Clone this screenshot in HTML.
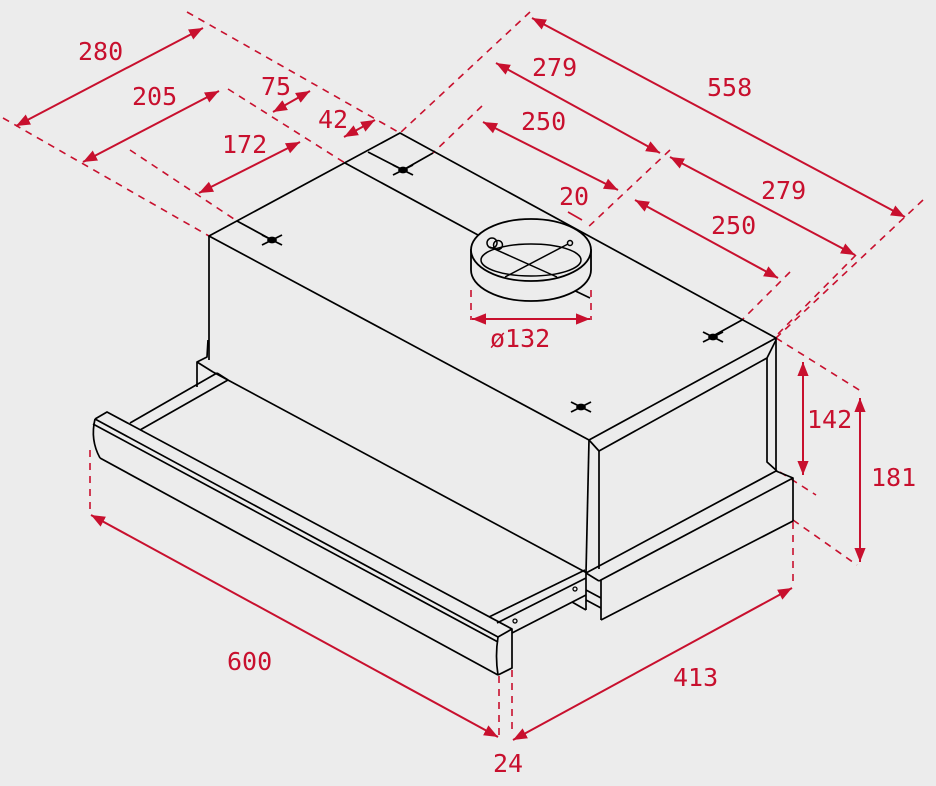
<!DOCTYPE html>
<html><head><meta charset="utf-8"><style>
html,body{margin:0;padding:0;background:#ececec;}
svg{display:block;}
text{font-family:"DejaVu Sans Mono","Liberation Mono",monospace;font-size:25px;fill:#c8102e;}
</style></head><body>
<svg width="936" height="786" viewBox="0 0 936 786" xmlns="http://www.w3.org/2000/svg">
<defs>
<marker id="a" viewBox="0 0 10 10" refX="10" refY="5" markerWidth="14" markerHeight="14" markerUnits="userSpaceOnUse" orient="auto-start-reverse">
<path d="M0,1 L10,5 L0,9 Z" fill="#c8102e"/></marker>
</defs>
<rect width="936" height="786" fill="#ececec"/>
<g stroke="#c8102e" stroke-width="1.6" stroke-dasharray="7,6" fill="none">
<line x1="187" y1="12" x2="400" y2="133"/>
<line x1="3" y1="118" x2="209" y2="236"/>
<line x1="228" y1="89" x2="345" y2="163"/>
<line x1="130" y1="150" x2="237" y2="221"/>
<line x1="530" y1="12" x2="400" y2="133"/>
<line x1="482" y1="106" x2="433" y2="153"/>
<line x1="670" y1="150" x2="585" y2="230"/>
<line x1="923" y1="200" x2="776" y2="338"/>
<line x1="856" y1="255" x2="776" y2="336"/>
<line x1="790" y1="272" x2="742" y2="320"/>
<line x1="471" y1="290" x2="471" y2="320"/>
<line x1="591" y1="290" x2="591" y2="320"/>
<line x1="776" y1="338" x2="864" y2="393"/>
<line x1="780" y1="472" x2="816" y2="495"/>
<line x1="793" y1="520" x2="857" y2="565"/>
<line x1="793" y1="522" x2="793" y2="585"/>
<line x1="90" y1="450" x2="90" y2="515"/>
<line x1="499" y1="676" x2="499" y2="735"/>
<line x1="512" y1="670" x2="512" y2="733"/>
</g>
<g stroke="#c8102e" stroke-width="1.6" fill="none">
<line x1="568" y1="212" x2="582" y2="220"/>
</g>
<g stroke="#c8102e" stroke-width="2" fill="none" marker-start="url(#a)" marker-end="url(#a)">
<line x1="16" y1="126" x2="203" y2="28"/>
<line x1="83" y1="162" x2="219" y2="91"/>
<line x1="199" y1="193" x2="300" y2="142"/>
<line x1="273" y1="112" x2="310" y2="91"/>
<line x1="344" y1="137" x2="375" y2="120"/>
<line x1="532" y1="18" x2="905" y2="217"/>
<line x1="496" y1="63" x2="660" y2="153"/>
<line x1="670" y1="157" x2="855" y2="255"/>
<line x1="483" y1="122" x2="618" y2="190"/>
<line x1="635" y1="200" x2="778" y2="278"/>
<line x1="472" y1="319" x2="590" y2="319"/>
<line x1="803" y1="362" x2="803" y2="475"/>
<line x1="860" y1="398" x2="860" y2="562"/>
<line x1="91" y1="515" x2="498" y2="737"/>
<line x1="513" y1="740" x2="792" y2="588"/>
</g>
<g stroke="#000" stroke-width="1.7" fill="none" stroke-linejoin="round">
<polyline points="209,360 209,236 400,133 776,338"/>
<line x1="209" y1="236" x2="589" y2="440"/>
<line x1="345" y1="163" x2="478" y2="235"/>
<line x1="565" y1="286" x2="590" y2="298"/>
<line x1="237" y1="221" x2="272" y2="240"/>
<polyline points="368,152 403,170 433,153"/>
<line x1="742" y1="320" x2="713" y2="336"/>
<polyline points="589,440 776,338 776,472"/>
<polyline points="599,451 767,358 776,340"/>
<polyline points="767,358 767,462 777,471"/>
<line x1="589" y1="440" x2="599" y2="451"/>
<line x1="589" y1="440" x2="586" y2="573"/>
<line x1="599" y1="451" x2="599" y2="569"/>
<polyline points="586,573 776,471 793,478 793,521 601,620"/>
<line x1="599" y1="581" x2="793" y2="478"/>
<line x1="586" y1="573" x2="599" y2="581"/>
<line x1="586" y1="573" x2="586" y2="610"/>
<line x1="601" y1="580" x2="601" y2="620"/>
<line x1="586" y1="590" x2="601" y2="598"/>
<line x1="586" y1="600" x2="601" y2="608"/>
<line x1="572" y1="602" x2="586" y2="610"/>
<line x1="213" y1="372" x2="587" y2="573"/>
<polyline points="197,387 197,362 207,357 208,340"/>
<line x1="197" y1="362" x2="213" y2="372"/>
<line x1="130" y1="423" x2="217" y2="373"/>
<line x1="140" y1="430" x2="228" y2="380"/>
<line x1="217" y1="373" x2="228" y2="380"/>
<line x1="489" y1="617" x2="585" y2="570"/>
<line x1="497" y1="623" x2="586" y2="578"/>
<line x1="512" y1="633" x2="586" y2="595"/>
<polyline points="95,419 107,412 512,629 512,668 498,675"/>
<line x1="95" y1="419" x2="498" y2="637"/>
<line x1="93" y1="424" x2="498" y2="642"/>
<line x1="498" y1="637" x2="512" y2="629"/>
<line x1="100" y1="458" x2="498" y2="675"/>
<path d="M95,419 Q90,440 100,458"/>
<path d="M498,637 Q495,656 498,675"/>
</g>
<g fill="none" stroke="#000" stroke-width="1.3">
<circle cx="515" cy="621" r="2"/>
<circle cx="575" cy="589" r="2"/>
</g>
<g stroke="#000" stroke-width="1.8">
<g transform="translate(272,240)"><line x1="-10" y1="-5" x2="10" y2="5"/><line x1="-10" y1="5" x2="10" y2="-5"/><ellipse cx="0" cy="0" rx="4" ry="2.5" fill="#000"/></g>
<g transform="translate(403,170)"><line x1="-10" y1="-5" x2="10" y2="5"/><line x1="-10" y1="5" x2="10" y2="-5"/><ellipse cx="0" cy="0" rx="4" ry="2.5" fill="#000"/></g>
<g transform="translate(713,337)"><line x1="-10" y1="-5" x2="10" y2="5"/><line x1="-10" y1="5" x2="10" y2="-5"/><ellipse cx="0" cy="0" rx="4" ry="2.5" fill="#000"/></g>
<g transform="translate(581,407)"><line x1="-10" y1="-5" x2="10" y2="5"/><line x1="-10" y1="5" x2="10" y2="-5"/><ellipse cx="0" cy="0" rx="4" ry="2.5" fill="#000"/></g>
</g>
<g stroke="#000" stroke-width="1.8" fill="#ececec">
<path d="M471,250 L471,270 A60,31 0 0 0 591,270 L591,250 Z"/>
<ellipse cx="531" cy="250" rx="60" ry="31"/>
</g>
<g stroke="#000" stroke-width="1.5" fill="none">
<ellipse cx="531" cy="260" rx="50" ry="16"/>
<line x1="490" y1="247" x2="557" y2="277"/>
<line x1="505" y1="277" x2="568" y2="244"/>
<circle cx="570" cy="243" r="2.5"/>
<circle cx="492" cy="243" r="5"/>
<circle cx="498" cy="245" r="4.5"/>
</g>
<text x="78" y="60">280</text>
<text x="132" y="105">205</text>
<text x="222" y="153">172</text>
<text x="261" y="95">75</text>
<text x="318" y="128">42</text>
<text x="707" y="96">558</text>
<text x="532" y="76">279</text>
<text x="761" y="199">279</text>
<text x="521" y="130">250</text>
<text x="711" y="234">250</text>
<text x="559" y="205">20</text>
<text x="490" y="347">ø132</text>
<text x="807" y="428">142</text>
<text x="871" y="486">181</text>
<text x="227" y="670">600</text>
<text x="673" y="686">413</text>
<text x="493" y="772">24</text>
</svg>
</body></html>
